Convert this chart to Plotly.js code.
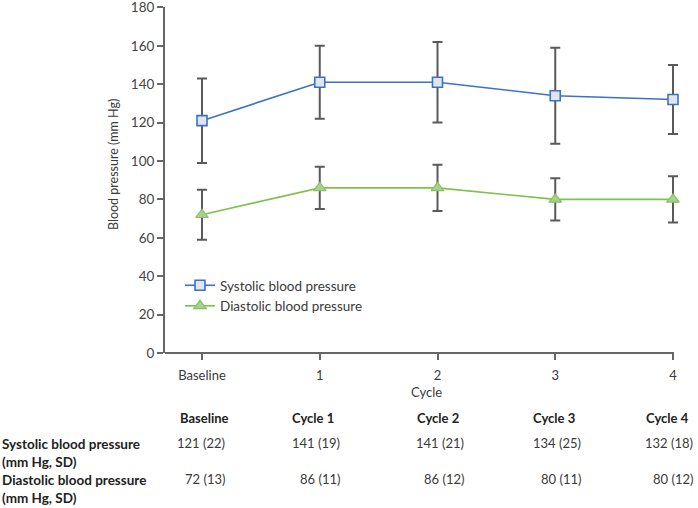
<!DOCTYPE html>
<html>
<head>
<meta charset="utf-8">
<script src="https://cdn.plot.ly/plotly-3.0.1.min.js"></script>
<style>html,body{margin:0;padding:0;background:#fff;}#chart{width:698px;height:508px;}</style>
</head>
<body>
<div id="chart"></div>
<script>
// ---- data ----
var cycles = ["Baseline", "1", "2", "3", "4"];
var tableHeaders = ["Baseline", "Cycle 1", "Cycle 2", "Cycle 3", "Cycle 4"];
var systolicMean = [121, 141, 141, 134, 132];
var systolicSD = [22, 19, 21, 25, 18];
var diastolicMean = [72, 86, 86, 80, 80];
var diastolicSD = [13, 11, 12, 11, 12];
var yTicks = [0, 20, 40, 60, 80, 100, 120, 140, 160, 180];
var rowLabels = ["Systolic blood pressure<br>(mm Hg, SD)", "Diastolic blood pressure<br>(mm Hg, SD)"];

var xIdx = cycles.map(function(c, i){ return i; });
var FONT = "Lato, 'Open Sans', sans-serif";
var axisCol = "#666666";
var textCol = "#3a3a3a";

var errStyle = {type: "data", visible: true, color: "#5a5a5a", thickness: 2, width: 5};

var traces = [
  {
    x: xIdx, y: systolicMean, name: "Systolic blood pressure",
    type: "scatter", mode: "lines+markers",
    line: {color: "#3b72c6", width: 1.6},
    marker: {symbol: "square", size: 10, color: "#e1e6ee", line: {color: "#3b72c6", width: 1.6}},
    error_y: Object.assign({array: systolicSD}, errStyle),
    cliponaxis: false
  },
  {
    x: xIdx, y: diastolicMean, name: "Diastolic blood pressure",
    type: "scatter", mode: "lines+markers",
    line: {color: "#7cc24c", width: 1.6},
    marker: {symbol: "triangle-up", size: 11, color: "#a9cf92", line: {color: "#86c25e", width: 1.2}},
    error_y: Object.assign({array: diastolicSD}, errStyle),
    cliponaxis: false
  }
];

// plot area: l=165, r=688 (x range extended so caps at cycle 4 are not clipped), t=7, b=353
var L = 165, R = 688, T = 7, B = 353;
function px(x){ return (x - L) / (R - L); }
function py(y){ return (B - y) / (B - T); }
// x scale: Baseline(0) at 202 px, 4 at 673 px
var unit = (673 - 202) / 4;
var xr = [(L - 202) / unit, (R - 202) / unit];

var annotations = [];
var headerCenters = [204, 313, 438, 554, 667];
var valueRights = [227, 342, 466, 583, 695];
tableHeaders.forEach(function(h, i){
  annotations.push({xref: "paper", yref: "paper", x: px(headerCenters[i]), y: py(418),
    xanchor: "center", yanchor: "middle", showarrow: false,
    text: "<b>" + h + "</b>", font: {family: FONT, size: 13, color: "#222"}});
});
var rowsMean = [systolicMean, diastolicMean];
var rowsSD = [systolicSD, diastolicSD];
var rowY = [443, 479];
rowLabels.forEach(function(lbl, r){
  annotations.push({xref: "paper", yref: "paper", x: px(0), y: py(rowY[r] - 9),
    xanchor: "left", yanchor: "top", align: "left", showarrow: false,
    text: "<b>" + lbl.replace("<br>", "</b><br><b>") + "</b>",
    font: {family: FONT, size: 13.5, color: "#222"}});
  rowsMean[r].forEach(function(v, i){
    annotations.push({xref: "paper", yref: "paper", x: px(valueRights[i]), y: py(rowY[r]),
      xanchor: "right", yanchor: "middle", showarrow: false,
      text: v + " (" + rowsSD[r][i] + ")", font: {family: FONT, size: 13, color: textCol}});
  });
});
// y-axis title (placed as in the reference, slightly above the plot's middle)
annotations.push({xref: "paper", yref: "paper", x: px(113), y: py(165),
  xanchor: "center", yanchor: "middle", textangle: -90, showarrow: false,
  text: "Blood pressure (mm Hg)", font: {family: FONT, size: 12.5, color: textCol}});

var layout = {
  width: 698, height: 508,
  margin: {l: L, r: 698 - R, t: T, b: 508 - B},
  paper_bgcolor: "#ffffff", plot_bgcolor: "#ffffff",
  font: {family: FONT, size: 13, color: textCol},
  showlegend: true,
  legend: {x: px(180), y: py(270), xanchor: "left", yanchor: "top",
    bgcolor: "rgba(0,0,0,0)", font: {family: FONT, size: 13.5, color: textCol},
    itemwidth: 30, tracegroupgap: 0},
  xaxis: {
    range: xr, tickvals: xIdx, ticktext: cycles,
    showgrid: false, zeroline: false, showline: false,
    ticks: "outside", ticklen: 6, tickwidth: 2, tickcolor: axisCol,
    ticklabelstandoff: 4,
    tickfont: {family: FONT, size: 13, color: textCol},
    title: {text: "Cycle", font: {family: FONT, size: 13, color: textCol}, standoff: 6}
  },
  yaxis: {
    range: [0, 180.2], tickvals: yTicks,
    showgrid: false, zeroline: false, showline: true, linecolor: axisCol, linewidth: 2,
    ticks: "outside", ticklen: 6, tickwidth: 2, tickcolor: axisCol,
    ticklabeloverflow: "allow",
    tickfont: {family: FONT, size: 13.5, color: "#444"}
  },
  shapes: [
    {type: "line", xref: "paper", yref: "paper", x0: 0, x1: px(674), y0: 0, y1: 0,
     line: {color: axisCol, width: 2}}
  ],
  annotations: annotations
};

Plotly.newPlot("chart", traces, layout, {displayModeBar: false, staticPlot: true});
</script>
</body>
</html>
